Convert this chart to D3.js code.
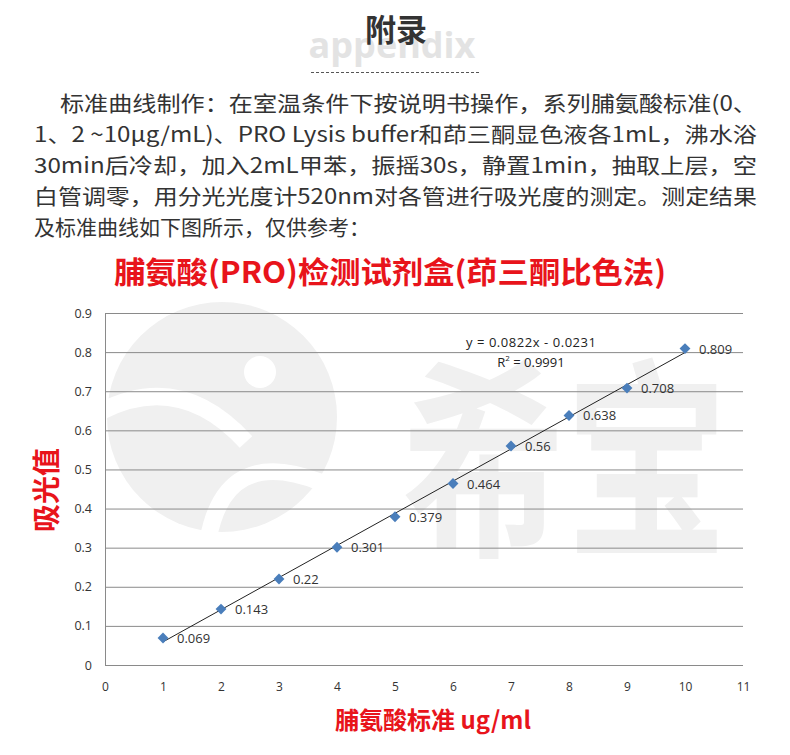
<!DOCTYPE html>
<html>
<head>
<meta charset="utf-8">
<script src="https://cdn.jsdelivr.net/npm/d3@7"></script>
<style>
  html, body { margin: 0; padding: 0; background: #fff; }
  svg { display: block; font-family: "Noto Sans CJK SC", "Noto Sans", sans-serif; }
</style>
</head>
<body>
<svg id="chart" width="790" height="755"></svg>
<script>
// standard curve data
var concentrations = [1, 2, 3, 4, 5, 6, 7, 8, 9, 10];
var absorbance = [0.069, 0.143, 0.22, 0.301, 0.379, 0.464, 0.56, 0.638, 0.708, 0.809];
var xTicks = [0, 1, 2, 3, 4, 5, 6, 7, 8, 9, 10, 11];
var yTicks = [0, 0.1, 0.2, 0.3, 0.4, 0.5, 0.6, 0.7, 0.8, 0.9];
var fitSlope = 0.0822, fitIntercept = -0.0231;
var introLines = [
  "标准曲线制作：在室温条件下按说明书操作，系列脯氨酸标准(0、",
  "1、2 ~10μg/mL)、PRO Lysis buffer和茚三酮显色液各1mL，沸水浴",
  "30min后冷却，加入2mL甲苯，振摇30s，静置1min，抽取上层，空",
  "白管调零，用分光光度计520nm对各管进行吸光度的测定。测定结果",
  "及标准曲线如下图所示，仅供参考："
];

var svg = d3.select("#chart");

// header
svg.append("text")
  .attr("x", 392).attr("y", 58)
  .attr("text-anchor", "middle")
  .attr("font-family", "Open Sans, sans-serif")
  .attr("font-weight", "bold")
  .attr("font-size", 36)
  .attr("fill", "#e3e3e3")
  .text("appendix");
svg.append("text")
  .attr("x", 396).attr("y", 41)
  .attr("text-anchor", "middle")
  .attr("font-weight", "bold")
  .attr("font-size", 31)
  .attr("fill", "#333")
  .text("附录");
svg.append("line")
  .attr("x1", 311).attr("x2", 479)
  .attr("y1", 72.5).attr("y2", 72.5)
  .attr("stroke", "#555")
  .attr("stroke-dasharray", "3,2");

// intro paragraph
svg.append("g").selectAll("text")
  .data(introLines)
  .enter()
  .append("text")
  .attr("x", (d, i) => i == 0 ? 60 : 34)
  .attr("y", (d, i) => 111 + i * 31)
  .attr("font-size", 21)
  .attr("fill", "#333")
  .attr("textLength", (d, i) => i == 0 ? 697 : (i < 4 ? 723 : null))
  .attr("lengthAdjust", "spacingAndGlyphs")
  .text(d => d);

// watermark (logo + brand name)
var wm = svg.append("g");
wm.append("circle").attr("cx", 222).attr("cy", 417).attr("r", 115).attr("fill", "#f0f0f0");
wm.append("circle").attr("cx", 260).attr("cy", 372).attr("r", 16).attr("fill", "#fff");
wm.append("path")
  .attr("d", "M100,412 Q180,370 246,442")
  .attr("fill", "none").attr("stroke", "#fff").attr("stroke-width", 17);
wm.append("path")
  .attr("d", "M208,540 Q225,445 320,482")
  .attr("fill", "none").attr("stroke", "#fff").attr("stroke-width", 17);
wm.append("text")
  .attr("transform", "translate(565,540) scale(0.77,1)")
  .attr("text-anchor", "middle")
  .attr("font-weight", "bold")
  .attr("font-size", 212)
  .attr("fill", "#f0f0f0")
  .text("希宝");

// chart title
svg.append("text")
  .attr("x", 390).attr("y", 283)
  .attr("text-anchor", "middle")
  .attr("font-weight", "bold")
  .attr("font-size", 30)
  .attr("fill", "#e8141b")
  .attr("textLength", 552)
  .attr("lengthAdjust", "spacingAndGlyphs")
  .text("脯氨酸(PRO)检测试剂盒(茚三酮比色法)");

// scales
var x = d3.scaleLinear().domain([0, 11]).range([105, 743]);
var y = d3.scaleLinear().domain([0, 0.9]).range([665, 313]);

// gridlines
svg.append("g")
  .attr("transform", "translate(105,0)")
  .call(d3.axisLeft(y).tickValues(yTicks).tickSize(-(743 - 105)).tickFormat(""))
  .call(g => g.select(".domain").attr("stroke", "#8a8a8a"))
  .call(g => g.selectAll(".tick line").attr("stroke", "#8a8a8a"));

// y tick labels
svg.append("g")
  .attr("transform", "translate(105,0)")
  .call(d3.axisLeft(y).tickValues(yTicks).tickSize(0).tickPadding(13).tickFormat(d => d3.format("")(+d.toFixed(1))))
  .call(g => g.select(".domain").remove())
  .call(g => g.selectAll("text")
    .attr("font-family", "Open Sans, sans-serif")
    .attr("font-size", 12.5)
    .attr("fill", "#333"));

// x tick labels
svg.append("g")
  .attr("transform", "translate(0,665)")
  .call(d3.axisBottom(x).tickValues(xTicks).tickSize(0).tickPadding(17))
  .call(g => g.select(".domain").remove())
  .call(g => g.selectAll("text")
    .attr("font-family", "Open Sans, sans-serif")
    .attr("font-size", 12)
    .attr("fill", "#333"));

// trendline
svg.append("line")
  .attr("x1", x(1)).attr("y1", y(fitSlope * 1 + fitIntercept))
  .attr("x2", x(10)).attr("y2", y(fitSlope * 10 + fitIntercept))
  .attr("stroke", "#222")
  .attr("stroke-width", 1);

// points
var pts = concentrations.map((c, i) => ({ c: c, a: absorbance[i] }));
svg.append("g").selectAll("path")
  .data(pts)
  .enter()
  .append("path")
  .attr("d", d3.symbol().type(d3.symbolDiamond2).size(75))
  .attr("transform", d => "translate(" + x(d.c) + "," + y(d.a) + ")")
  .attr("fill", "#4a7ebb");

svg.append("g").selectAll("text")
  .data(pts)
  .enter()
  .append("text")
  .attr("x", d => x(d.c) + 14)
  .attr("y", d => y(d.a) + 5)
  .attr("font-family", "Open Sans, sans-serif")
  .attr("font-size", 13)
  .attr("fill", "#333")
  .text(d => d.a);

// equation
svg.append("text")
  .attr("font-family", "Open Sans, sans-serif")
  .attr("font-size", 13)
  .attr("fill", "#222")
  .attr("text-anchor", "middle")
  .attr("x", 531).attr("y", 347)
  .attr("textLength", 130)
  .text("y = 0.0822x - 0.0231");
var r2 = svg.append("text")
  .attr("font-family", "Open Sans, sans-serif")
  .attr("font-size", 13)
  .attr("fill", "#222")
  .attr("text-anchor", "middle")
  .attr("x", 531).attr("y", 367);
r2.append("tspan").text("R");
r2.append("tspan").attr("font-size", 8).attr("dy", -6).text("2");
r2.append("tspan").attr("dy", 6).text(" = 0.9991");

// axis titles
svg.append("text")
  .attr("transform", "translate(57,490) rotate(-90)")
  .attr("text-anchor", "middle")
  .attr("font-weight", "bold")
  .attr("font-size", 28)
  .attr("fill", "#e8141b")
  .text("吸光值");

svg.append("text")
  .attr("x", 433).attr("y", 729)
  .attr("text-anchor", "middle")
  .attr("font-weight", "bold")
  .attr("font-size", 24)
  .attr("fill", "#e8141b")
  .text("脯氨酸标准 ug/ml");
</script>
</body>
</html>
